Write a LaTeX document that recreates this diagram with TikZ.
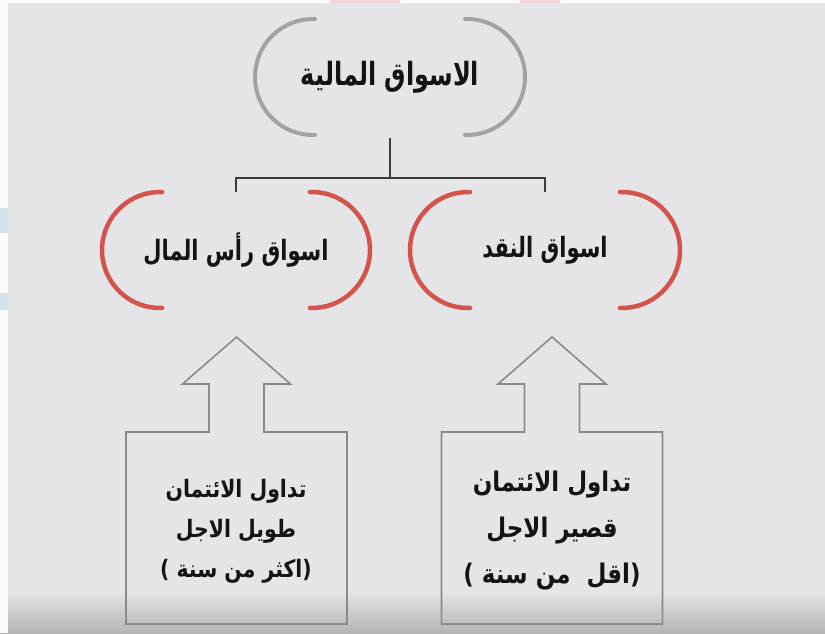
\documentclass[tikz,border=0pt]{standalone}
\usepackage{fontspec}
\newfontfamily\arabicfont[Script=Arabic, FakeStretch=0.75]{DejaVu Sans}
\newfontfamily\arabicboxfont[Script=Arabic, FakeStretch=0.85]{DejaVu Sans}
\TeXXeTstate=1
\definecolor{bg}{HTML}{E5E5E7}
\definecolor{bgdark}{HTML}{B4B4B6}
\definecolor{arcgray}{HTML}{A2A2A2}
\definecolor{arcred}{HTML}{D4544C}
\definecolor{linec}{HTML}{3A3A3A}
\definecolor{boxc}{HTML}{8A8A8A}
\definecolor{edgeblue}{HTML}{CFE3EC}
\definecolor{edgepink}{HTML}{F3D6D6}
\newcommand\mybrackets[5]{%
  \draw[#5] (#1.center) ++(-#2,0) ++({90-#4}:#3) arc[start angle={90-#4}, end angle={270+#4}, radius=#3];
  \draw[#5] (#1.center) ++(#2,0) ++({-90-#4}:#3) arc[start angle={-90-#4}, end angle={90+#4}, radius=#3];
}
\begin{document}
\begin{tikzpicture}[x=1pt,y=1pt,
  grayarc/.style={draw=arcgray, line width=4pt, line cap=round},
  redarc/.style={draw=arcred, line width=4.5pt, line cap=round},
  conn/.style={draw=linec, line width=1.6pt},
  arrowbox/.style={draw=boxc, line width=1.6pt, line join=miter},
  toplbl/.style={font=\arabicfont\bfseries\fontsize{32}{36}\selectfont, text=black!92, inner sep=0pt},
  midlbl/.style={font=\arabicfont\bfseries\fontsize{28}{32}\selectfont, text=black!92, inner sep=0pt},
  ltxt/.style={font=\arabicboxfont\bfseries\fontsize{24}{40}\selectfont, text=black!92, inner sep=0pt, align=center},
  rtxt/.style={font=\arabicboxfont\bfseries\fontsize{27}{46}\selectfont, text=black!92, inner sep=0pt, align=center}
]
\useasboundingbox (0,0) rectangle (825,633);
% background
\fill[bg] (0,0) rectangle (825,633);
\shade[top color=bg, bottom color=bgdark] (0,0) rectangle (825,42);
\fill[white!97!gray] (0,0) rectangle (8,633);
\fill[white!97!gray] (0,630) rectangle (825,633);
\fill[edgepink] (330,630) rectangle (400,633);
\fill[edgepink] (520,630) rectangle (560,633);
\fill[edgeblue] (0,400) rectangle (8,425);
\fill[edgeblue] (0,323) rectangle (8,340);

% top node
\node[toplbl] (fin) at (390,556) {\beginR الاسواق المالية\endR};
\mybrackets{fin}{77}{58}{2}{grayarc}

% second level
\node[midlbl] (cap) at (236,383) {\beginR اسواق رأس المال\endR};
\node[midlbl] (money) at (545,383) {\beginR اسواق النقد\endR};
\mybrackets{cap}{76}{58}{2}{redarc}
\mybrackets{money}{77}{58}{2}{redarc}

% connectors
\coordinate (stemtop) at (390,495);
\coordinate (split) at (390,455);
\coordinate (capin) at (236,441);
\coordinate (moneyin) at (545,441);
\draw[conn] (stemtop) -- (split);
\draw[conn] (capin) |- (split) -| (moneyin);

% arrow boxes
\draw[arrowbox, shift={(236.5,0)}] (-110.5,201) -- (-27.5,201) -- (-27.5,249) -- (-54,249) -- (0,296) -- (54,249) -- (27.5,249) -- (27.5,201) -- (110.5,201) -- (110.5,9) -- (-110.5,9) -- cycle;
\draw[arrowbox, shift={(552,0)}] (-110.5,201) -- (-27.5,201) -- (-27.5,249) -- (-54,249) -- (0,296) -- (54,249) -- (27.5,249) -- (27.5,201) -- (110.5,201) -- (110.5,9) -- (-110.5,9) -- cycle;

\node[ltxt] (longterm) at (236,102) {\beginR تداول الائتمان\endR\\ \beginR طويل الاجل\endR\\ )\ \beginR اكثر من سنة\endR(};
\node[rtxt] (shortterm) at (552,102) {\beginR تداول الائتمان\endR\\ \beginR قصير الاجل\endR\\ )\ \beginR اقل\ \ من سنة\endR(};
\end{tikzpicture}
\end{document}
